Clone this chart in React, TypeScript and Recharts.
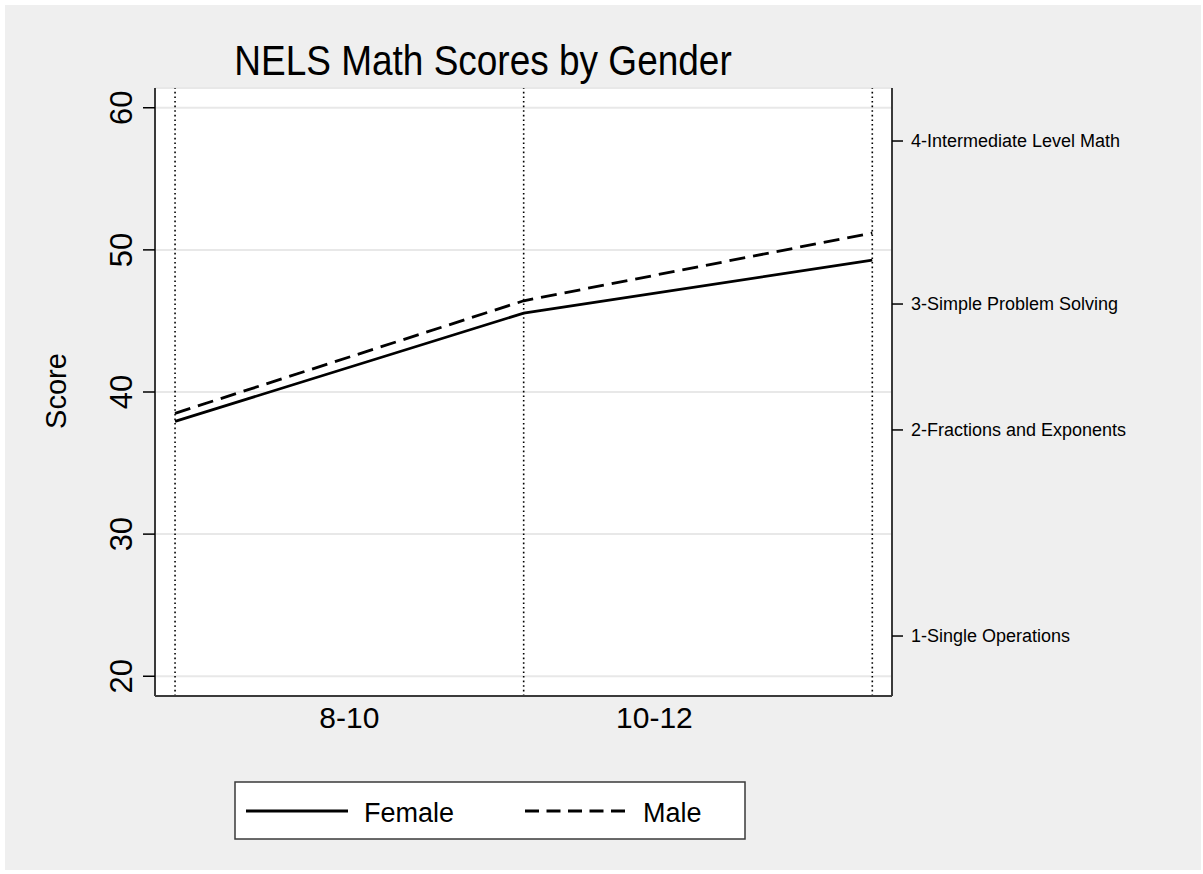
import { CartesianGrid, Line, LineChart, ReferenceLine, XAxis, YAxis } from 'recharts'

const grades = [8, 10, 12]
const female = [37.93, 45.55, 49.28]
const male = [38.5, 46.42, 51.19]

const scoreTicks = [20, 30, 40, 50, 60]
const periodTicks = [9, 10.75]
const periodLabels = ['8-10', '10-12']
const levelTicks = [22.83, 37.33, 46.19, 57.66]
const levelLabels = [
  '1-Single Operations',
  '2-Fractions and Exponents',
  '3-Simple Problem Solving',
  '4-Intermediate Level Math',
]

const series = [
  { key: 'female', name: 'Female', dash: undefined as string | undefined },
  { key: 'male', name: 'Male', dash: '16 8' },
]

const data = grades.map((g, i) => ({ grade: g, female: female[i], male: male[i] }))

const font = 'Liberation Sans, Arial, sans-serif'
const axisGrey = '#3a3a3a'

function LeftTick({ x, y, payload }: { x: number; y: number; payload: { value: number } }) {
  const bx = x - 9
  return (
    <text
      x={bx}
      y={y}
      transform={`rotate(-90, ${bx}, ${y})`}
      textAnchor="middle"
      fontSize={31}
      fontFamily={font}
      fill="#000"
    >
      {payload.value}
    </text>
  )
}

export default function App() {
  return (
    <div style={{ position: 'absolute', left: 0, top: 0, width: 1203, height: 874, background: '#fff' }}>
      <div style={{ position: 'absolute', left: 5, top: 5, width: 1196, height: 865, background: '#efefef' }} />
      <div style={{ position: 'absolute', left: 0, top: 0 }}>
        <LineChart width={1203} height={874} data={data} margin={{ top: 88, left: 55, right: 11, bottom: 128 }}>
          <CartesianGrid vertical={false} stroke="#e8e8e8" strokeWidth={2} fill="#fff" />
          <XAxis
            dataKey="grade"
            type="number"
            domain={[7.885, 12.113]}
            ticks={periodTicks}
            tickFormatter={(v: number) => periodLabels[periodTicks.indexOf(v)] ?? ''}
            tickLine={false}
            tickSize={0}
            tickMargin={11}
            height={50}
            axisLine={{ stroke: axisGrey, strokeWidth: 2 }}
            tick={{ fill: '#000', fontSize: 30, fontFamily: font }}
            allowDataOverflow
          />
          <YAxis
            domain={[18.61, 61.39]}
            ticks={scoreTicks}
            width={100}
            tickSize={12}
            tickMargin={2}
            axisLine={{ stroke: axisGrey, strokeWidth: 2 }}
            tickLine={{ stroke: '#000', strokeWidth: 1.5 }}
            tick={LeftTick as any}
            allowDataOverflow
          />
          <YAxis
            yAxisId="right"
            orientation="right"
            domain={[18.61, 61.39]}
            ticks={levelTicks}
            tickFormatter={(v: number) => levelLabels[levelTicks.indexOf(v)] ?? ''}
            width={300}
            tickSize={11}
            tickMargin={8}
            axisLine={{ stroke: axisGrey, strokeWidth: 2 }}
            tickLine={{ stroke: '#000', strokeWidth: 1.5 }}
            tick={{ fill: '#000', fontSize: 18, fontFamily: font, textAnchor: 'start' }}
            allowDataOverflow
          />
          {grades.map((g) => (
            <ReferenceLine key={g} x={g} stroke="#000" strokeWidth={1.6} strokeDasharray="1.6 3" />
          ))}
          {series.map((s) => (
            <Line
              key={s.key}
              dataKey={s.key}
              name={s.name}
              type="linear"
              stroke="#000"
              strokeWidth={2.8}
              strokeDasharray={s.dash}
              dot={false}
              activeDot={false}
              isAnimationActive={false}
            />
          ))}
        </LineChart>
      </div>
      <svg
        width={1203}
        height={874}
        style={{ position: 'absolute', left: 0, top: 0, pointerEvents: 'none' }}
      >
        <text
          x={483}
          y={75}
          textAnchor="middle"
          fontSize={37}
          fontFamily={font}
          fill="#000"
          transform="translate(0 75) scale(1 1.17) translate(0 -75)"
        >
          NELS Math Scores by Gender
        </text>
        <text
          x={66}
          y={391}
          textAnchor="middle"
          fontSize={29}
          fontFamily={font}
          fill="#000"
          transform="rotate(-90, 66, 391)"
        >
          Score
        </text>
        <rect x={235} y={782} width={510} height={57} fill="#fff" stroke={axisGrey} strokeWidth={1.5} />
        {series.map((s, i) => {
          const x0 = i === 0 ? 246 : 525
          return (
            <g key={s.key}>
              <line x1={x0} x2={x0 + 102} y1={811} y2={811} stroke="#000" strokeWidth={2.8} strokeDasharray={i === 0 ? undefined : '14 7.5'} />
              <text x={x0 + 118} y={822} fontSize={27} fontFamily={font} fill="#000">
                {s.name}
              </text>
            </g>
          )
        })}
      </svg>
    </div>
  )
}
